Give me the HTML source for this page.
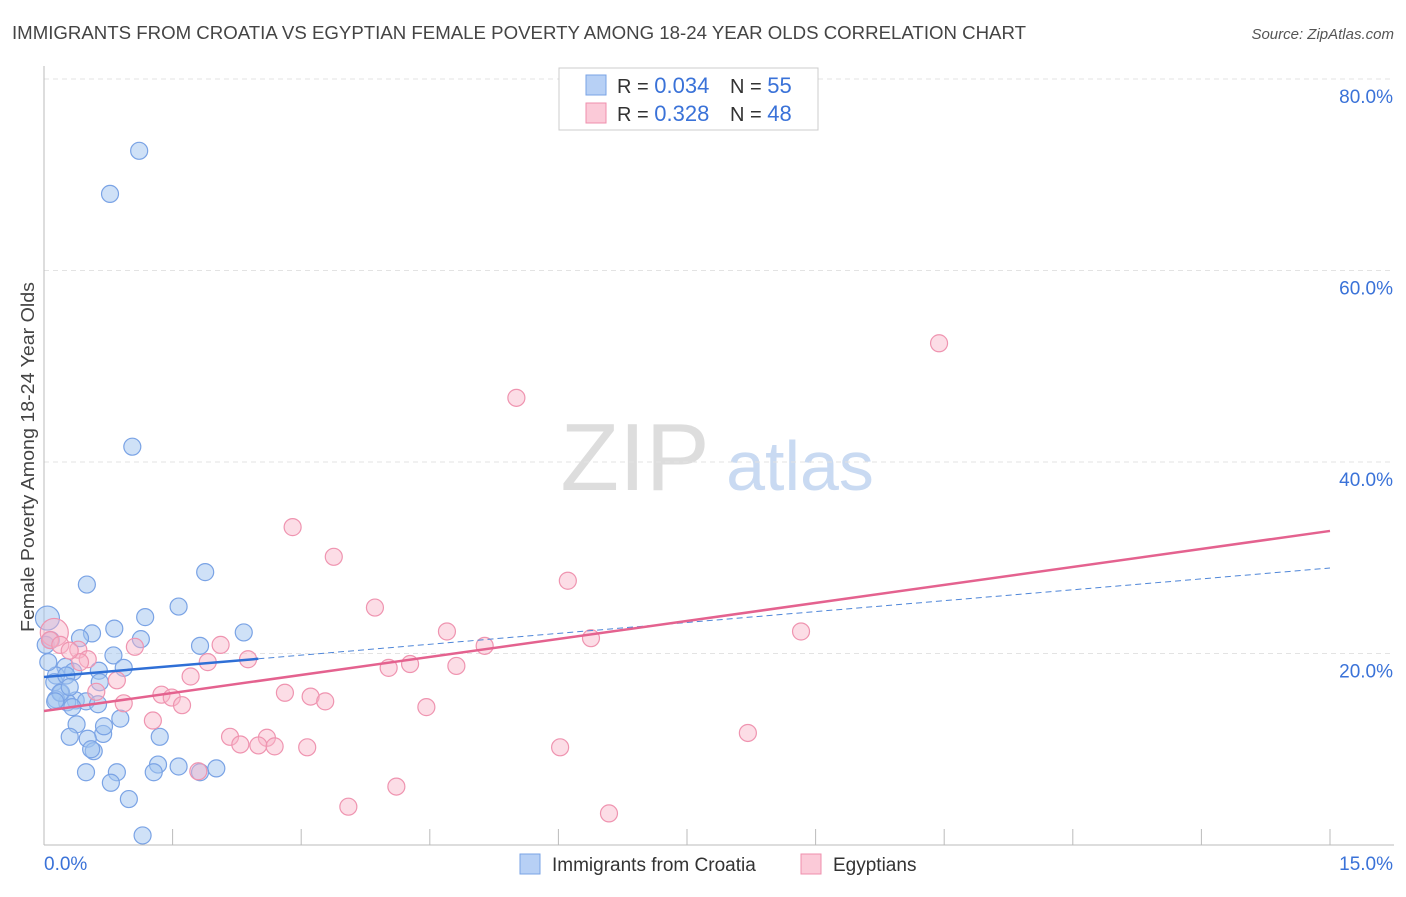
<!DOCTYPE html>
<html><head><meta charset="utf-8">
<style>
body{margin:0;background:#fff;font-family:"Liberation Sans",sans-serif;}
svg text{font-family:"Liberation Sans",sans-serif;}
</style></head>
<body>
<svg id="chart" width="1406" height="892" viewBox="0 0 1406 892" xmlns="http://www.w3.org/2000/svg">
<text x="12" y="39" font-size="18" fill="#444" textLength="1014" lengthAdjust="spacingAndGlyphs">IMMIGRANTS FROM CROATIA VS EGYPTIAN FEMALE POVERTY AMONG 18-24 YEAR OLDS CORRELATION CHART</text>
<text x="1394" y="39" font-size="15" fill="#555" text-anchor="end" font-style="italic">Source: ZipAtlas.com</text>
<text transform="translate(34,457) rotate(-90)" font-size="18" fill="#444" text-anchor="middle" textLength="350" lengthAdjust="spacingAndGlyphs">Female Poverty Among 18-24 Year Olds</text>
<g>
<text x="635" y="490" font-size="96" fill="#ddd" font-family="Liberation Serif" text-anchor="middle">ZIP</text>
<text x="800" y="490" font-size="70" fill="#c9daf2" text-anchor="middle">atlas</text>
</g>
<g id="grid"></g>
<g id="axes"></g>
<g id="marks"></g>
<g>
<rect x="559" y="68" width="259" height="62" fill="#fff" stroke="#ccc"/>
<rect x="586" y="75" width="20" height="20" fill="#b7d0f5" stroke="#7aa3e5"/>
<rect x="586" y="103" width="20" height="20" fill="#fbcad8" stroke="#ef8fad"/>
<text x="617" y="93" font-size="20" fill="#333">R = <tspan fill="#3a72d8" font-size="22">0.034</tspan></text>
<text x="730" y="93" font-size="20" fill="#333">N = <tspan fill="#3a72d8" font-size="22">55</tspan></text>
<text x="617" y="121" font-size="20" fill="#333">R = <tspan fill="#3a72d8" font-size="22"> 0.328</tspan></text>
<text x="730" y="121" font-size="20" fill="#333">N = <tspan fill="#3a72d8" font-size="22">48</tspan></text>
</g>
<g>
<rect x="520" y="854" width="20" height="20" fill="#b7d0f5" stroke="#7aa3e5"/>
<text x="552" y="871" font-size="19" fill="#333">Immigrants from Croatia</text>
<rect x="801" y="854" width="20" height="20" fill="#fbcad8" stroke="#ef8fad"/>
<text x="833" y="871" font-size="19" fill="#333">Egyptians</text>
</g>
</svg>
<script>
const xTickVals=[0,1.5,3,4.5,6,7.5,9,10.5,12,13.5,15];
const yTickVals=[20,40,60,80];
const yTickLabels=["20.0%","40.0%","60.0%","80.0%"];
const croatiaX=[1.11,0.77,1.03,1.88,0.50,1.57,1.18,0.04,0.82,0.56,2.33,0.42,1.13,1.82,0.08,0.81,0.25,0.64,0.93,0.14,0.34,0.65,0.12,0.20,0.37,0.49,0.27,0.14,0.63,0.89,0.38,0.30,0.69,0.51,1.35,0.58,0.55,1.33,1.57,2.01,1.82,0.85,0.49,1.28,0.78,0.99,1.15,0.02,0.05,0.19,0.26,0.70,0.33,0.13,0.30];
const croatiaY=[72.5,68.0,41.6,28.5,27.2,24.9,23.8,23.7,22.6,22.1,22.2,21.6,21.5,20.8,21.4,19.8,18.6,18.2,18.5,17.7,18.1,17.0,17.0,15.9,15.1,15.0,14.9,15.2,14.7,13.2,12.6,11.3,11.6,11.1,11.3,9.8,10.0,8.4,8.2,8.0,7.6,7.6,7.6,7.6,6.5,4.8,1.0,20.9,19.1,15.9,17.7,12.4,14.4,15.0,16.5];
const egyptX=[10.44,5.51,2.90,3.38,6.11,3.86,4.70,8.83,6.38,5.14,0.12,0.07,0.19,0.40,1.06,2.06,2.38,1.91,0.51,4.27,4.02,4.81,1.71,0.85,0.61,1.37,1.49,2.81,3.11,3.28,1.61,0.93,4.46,1.27,2.17,2.60,2.29,2.50,2.69,3.07,6.02,8.21,1.80,3.55,4.11,6.59,0.42,0.30];
const egyptY=[52.4,46.7,33.2,30.1,27.6,24.8,22.3,22.3,21.6,20.8,22.2,21.4,20.9,20.4,20.7,20.9,19.4,19.1,19.4,18.9,18.5,18.7,17.6,17.2,16.0,15.7,15.4,15.9,15.5,15.0,14.6,14.8,14.4,13.0,11.3,11.2,10.5,10.4,10.3,10.2,10.2,11.7,7.7,4.0,6.1,3.3,19.1,20.3];
const croatiaTrend=[17.55,28.93];
const egyptTrend=[14.0,32.8];
const X0=44,X1=1330,Y0=845,YS=9.575;
const sx=v=>X0+(v/15)*(X1-X0);
const sy=v=>Y0-v*YS;
const NS="http://www.w3.org/2000/svg";
function mk(parent,tag,attrs){const e=document.createElementNS(NS,tag);for(const k in attrs)e.setAttribute(k,attrs[k]);document.getElementById(parent).appendChild(e);return e;}
yTickVals.forEach((v,i)=>{
 const l=mk('grid','line',{x1:44,x2:1394,y1:sy(v),y2:sy(v),stroke:'#e3e3e3','stroke-dasharray':'5,4'});
 
 
 const t=mk('axes','text',{x:1393,y:sy(v)+24,'font-size':19,fill:'#3a72d8','text-anchor':'end'});
 t.textContent=yTickLabels[i];
 
 
});
const tl=mk('grid','line',{x1:44,x2:1394,y1:79,y2:79,stroke:'#e3e3e3','stroke-dasharray':'5,4'});


const ya=mk('axes','line',{x1:44,x2:44,y1:66,y2:845,stroke:'#bbb'});


const xa=mk('axes','line',{x1:44,x2:1394,y1:845,y2:845,stroke:'#bbb'});


xTickVals.forEach(v=>{
 const t=mk('axes','line',{x1:sx(v),x2:sx(v),y1:829,y2:845,stroke:'#bbb'});
 
 
});
const xl0=mk('axes','text',{x:44,y:870,'font-size':19,fill:'#3a72d8'});xl0.textContent='0.0%';


const xl1=mk('axes','text',{x:1393,y:870,'font-size':19,fill:'#3a72d8','text-anchor':'end'});xl1.textContent='15.0%';


croatiaX.forEach((x,i)=>{
 const c=mk('marks','circle',{cx:sx(x),cy:sy(croatiaY[i]),r:i==7?12:8.5,fill:'rgba(160,196,240,0.5)',stroke:'#7aa3e5','stroke-width':1.2});
 
 
});
egyptX.forEach((x,i)=>{
 const c=mk('marks','circle',{cx:sx(x),cy:sy(egyptY[i]),r:i==10?14:8.5,fill:'rgba(248,180,200,0.45)',stroke:'#ef94b0','stroke-width':1.2});
 
 
});
const bx=2.5, by=croatiaTrend[0]+(croatiaTrend[1]-croatiaTrend[0])*bx/15;
const b1=mk('marks','line',{x1:sx(0),y1:sy(croatiaTrend[0]),x2:sx(bx),y2:sy(by),stroke:'#2f6fd6','stroke-width':2.5});


const b2=mk('marks','line',{x1:sx(bx),y1:sy(by),x2:sx(15),y2:sy(croatiaTrend[1]),stroke:'#4f86d8','stroke-width':1,'stroke-dasharray':'6,4'});


const p1=mk('marks','line',{x1:sx(0),y1:sy(egyptTrend[0]),x2:sx(15),y2:sy(egyptTrend[1]),stroke:'#e4628f','stroke-width':2.5});


</script>
</body></html>
